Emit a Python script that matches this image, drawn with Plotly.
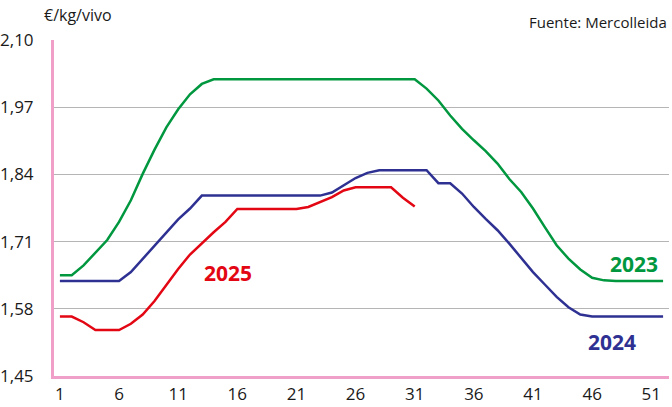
import plotly.graph_objects as go

weeks = list(range(1, 53))
y2023 = [1.645, 1.645, 1.664, 1.688, 1.713, 1.748, 1.790, 1.841, 1.888, 1.931,
         1.966, 1.995, 2.015, 2.024, 2.024, 2.024, 2.024, 2.024, 2.024, 2.024,
         2.024, 2.024, 2.024, 2.024, 2.024, 2.024, 2.024, 2.024, 2.024, 2.024,
         2.024, 2.006, 1.983, 1.954, 1.928, 1.906, 1.885, 1.861, 1.831, 1.806,
         1.774, 1.738, 1.703, 1.677, 1.656, 1.640, 1.635, 1.634, 1.634, 1.634,
         1.634, 1.634]
y2024 = [1.634, 1.634, 1.634, 1.634, 1.634, 1.634, 1.651, 1.677, 1.703, 1.728,
         1.753, 1.774, 1.799, 1.799, 1.799, 1.799, 1.799, 1.799, 1.799, 1.799,
         1.799, 1.799, 1.799, 1.805, 1.819, 1.833, 1.843, 1.848, 1.848, 1.848,
         1.848, 1.848, 1.823, 1.823, 1.803, 1.777, 1.754, 1.732, 1.706, 1.679,
         1.651, 1.627, 1.603, 1.583, 1.569, 1.565, 1.565, 1.565, 1.565, 1.565,
         1.565, 1.565]
y2025 = [1.565, 1.565, 1.554, 1.539, 1.539, 1.539, 1.551, 1.569, 1.595, 1.626,
         1.657, 1.685, 1.707, 1.728, 1.748, 1.773, 1.773, 1.773, 1.773, 1.773,
         1.773, 1.777, 1.786, 1.796, 1.809, 1.815, 1.815, 1.815, 1.815, 1.795,
         1.778]
ytick_vals = [1.45, 1.58, 1.71, 1.84, 1.97, 2.10]
xtick_vals = [1, 6, 11, 16, 21, 26, 31, 36, 41, 46, 51]

GREEN = "#00973f"
BLUE = "#2e3192"
RED = "#e30613"
PINK = "#f0a0c8"
FONT = "Open Sans"

fig = go.Figure()
fig.add_trace(go.Scatter(x=weeks, y=y2023, mode="lines", line=dict(color=GREEN, width=2.5), name="2023"))
fig.add_trace(go.Scatter(x=weeks, y=y2024, mode="lines", line=dict(color=BLUE, width=2.5), name="2024"))
fig.add_trace(go.Scatter(x=weeks[:len(y2025)], y=y2025, mode="lines", line=dict(color=RED, width=2.5), name="2025"))

labels = [("2025", 15.2, 1.650, RED), ("2023", 49.5, 1.666, GREEN), ("2024", 47.7, 1.515, BLUE)]
for txt, xx, yy, col in labels:
    fig.add_annotation(x=xx, y=yy, text="<b>" + txt + "</b>", showarrow=False,
                       font=dict(family=FONT, size=21, color=col))

fig.add_annotation(xref="paper", yref="paper", x=-0.02, y=1.0, yshift=12, xanchor="left", yanchor="bottom",
                   text="€/kg/vivo", showarrow=False, font=dict(family=FONT, size=16, color="#1a1a1a"))
fig.add_annotation(xref="paper", yref="paper", x=1.0, y=1.0, yshift=6, xanchor="right", yanchor="bottom",
                   text="Fuente: Mercolleida", showarrow=False, font=dict(family=FONT, size=15, color="#1a1a1a"))

fig.update_layout(
    width=672, height=407,
    margin=dict(l=54, r=3, t=40, b=31, autoexpand=False),
    plot_bgcolor="white", paper_bgcolor="white",
    showlegend=False,
    separators=",.",
    font=dict(family=FONT, size=15, color="#1a1a1a"),
)
fig.update_xaxes(range=[0.5, 52.5], tickvals=xtick_vals, showgrid=False, automargin=False,
                 showline=True, linecolor=PINK, linewidth=3,
                 ticks="outside", ticklen=1, tickcolor="rgba(0,0,0,0)",
                 tickfont=dict(family=FONT, size=17), zeroline=False)
fig.update_yaxes(range=[1.45, 2.10], tickvals=ytick_vals, tickformat=".2f", automargin=False,
                 showgrid=True, gridcolor="#b5b5b5", gridwidth=1.2,
                 showline=True, linecolor=PINK, linewidth=3,
                 ticks="outside", ticklen=14, tickcolor="rgba(0,0,0,0)",
                 tickfont=dict(family=FONT, size=17), zeroline=False)

fig.write_html("out.html", config={"displayModeBar": False},
               post_script="document.body.style.margin='0';document.body.style.overflow='hidden';")
